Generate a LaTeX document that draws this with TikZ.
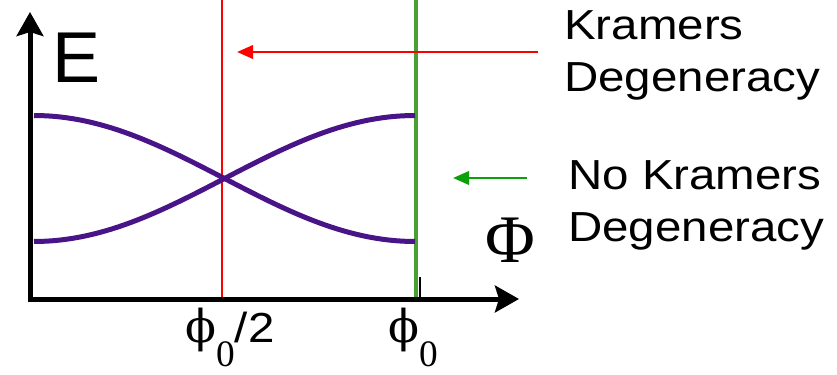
\documentclass[tikz,border=0pt]{standalone}
\usepackage{fontspec}
\setmainfont{Liberation Sans}
\newfontfamily\greekfont{DejaVu Serif}
\newfontfamily\timesfont{Liberation Serif}
\usetikzlibrary{arrows.meta}
\definecolor{levelpurple}{RGB}{72,20,136}
\definecolor{kramersred}{RGB}{255,0,0}
\definecolor{linegreen}{RGB}{70,160,50}
\definecolor{arrowgreen}{RGB}{10,160,10}
\newcommand{\fluxphi}{{\greekfont\fontsize{34}{40}\selectfont ϕ}}
\newcommand{\fluxzero}{\raisebox{-18pt}{\timesfont\fontsize{28}{32}\selectfont 0}}
\newcommand{\widetext}[1]{\scalebox{1.13}[1]{#1}}
\tikzset{axisline/.style={line width=3.75pt,-{Stealth[length=18pt,width=20pt,inset=3pt]}},energyline/.style={levelpurple,line width=3.75pt},sidetext/.style={inner sep=0pt,anchor=base west,font=\fontsize{31.5}{36}\selectfont},pointer/.style={line width=2pt,-{Triangle[length=12pt,width=10pt]}},marker/.style={line width=2pt}}

\begin{document}
\begin{tikzpicture}[x=0.75pt,y=-0.75pt]
\useasboundingbox (0,0) rectangle (837,374);
\coordinate (corner) at (30,302);
\coordinate (xstart) at (28,299);
\coordinate (etop) at (30,12);
\coordinate (phiend) at (519,299);
\coordinate (halftop) at (222,0);
\coordinate (halfbot) at (222,299);
\coordinate (fulltop) at (416,0);
\coordinate (fullbot) at (416,299);
\coordinate (ticktop) at (420,277);
\coordinate (tickbot) at (420,299);
\coordinate (redtail) at (538,52);
\coordinate (redtip) at (237,52);
\coordinate (greentail) at (527,178);
\coordinate (greentip) at (453,178);
\draw[marker,kramersred] (halftop)--(halfbot);
\draw[marker,linegreen,line width=2.3pt] (fulltop)--(fullbot);
\draw[energyline] plot[domain=0:180,samples=60] ({34+2.1167*\x},{178.5-63*cos(\x)});
\draw[energyline] plot[domain=0:180,samples=60] ({34+2.1167*\x},{178.5+63*cos(\x)});
\draw[axisline] (corner)--(etop);
\draw[axisline] (xstart)--(phiend);
\draw[marker] (ticktop)--(tickbot);
\draw[pointer,kramersred] (redtail)--(redtip);
\draw[pointer,arrowgreen] (greentail)--(greentip);
\node[inner sep=0pt,anchor=base west,font=\fontsize{54}{60}\selectfont] (elabel) at (52,83) {E};
\node[inner sep=0pt,font=\timesfont\fontsize{51}{56}\selectfont] (fluxlabel) at (510,240) {Φ};
\node[sidetext] (kramers) at (564,40) {\widetext{Kramers}};
\node[sidetext] (kramersdeg) at (564,92) {\widetext{Degeneracy}};
\node[sidetext] (nokramers) at (568,189) {\widetext{No Kramers}};
\node[sidetext] (nokramersdeg) at (568,241) {\widetext{Degeneracy}};
\node[sidetext] (halfflux) at (185,342) {\fluxphi\fluxzero\widetext{/2}};
\node[sidetext] (fullflux) at (388,342) {\fluxphi\fluxzero};
\end{tikzpicture}
\end{document}
